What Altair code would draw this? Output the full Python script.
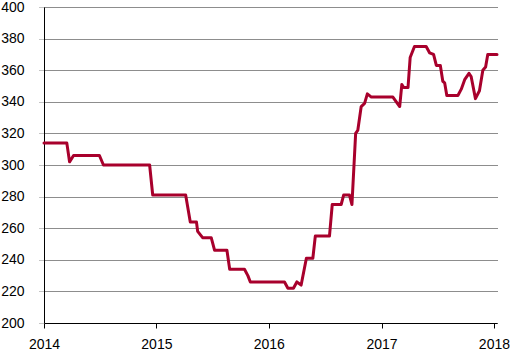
import altair as alt
import pandas as pd

dates = [
    "2014-01-01", "2014-03-16", "2014-03-25", "2014-04-07", "2014-06-30",
    "2014-07-13", "2014-12-10", "2014-12-20", "2015-04-06", "2015-04-21",
    "2015-05-11", "2015-05-15", "2015-05-31", "2015-06-28", "2015-07-09",
    "2015-08-18", "2015-08-27", "2015-10-14", "2015-10-25", "2015-11-02",
    "2016-02-21", "2016-03-03", "2016-03-21", "2016-04-01", "2016-04-15",
    "2016-05-02", "2016-05-23", "2016-05-31", "2016-07-16", "2016-07-25",
    "2016-08-23", "2016-08-31", "2016-09-19", "2016-09-27", "2016-10-09",
    "2016-10-16", "2016-10-27", "2016-11-07", "2016-11-16", "2016-11-29",
    "2017-02-07", "2017-03-01", "2017-03-08", "2017-03-14", "2017-03-28",
    "2017-04-04", "2017-04-18", "2017-05-26", "2017-06-06", "2017-06-19",
    "2017-06-28", "2017-07-11", "2017-07-19", "2017-07-25", "2017-08-01",
    "2017-09-06", "2017-09-17", "2017-09-28", "2017-10-12", "2017-10-19",
    "2017-11-02", "2017-11-15", "2017-11-26", "2017-12-05", "2017-12-12",
    "2018-01-11",
]
values = [
    314, 314, 302, 306, 306,
    300, 300, 281, 281, 264,
    264, 258, 254, 254, 246,
    246, 234, 234, 230, 226,
    226, 222, 222, 226, 224,
    241, 241, 255, 255, 275,
    275, 281, 281, 275, 320,
    322, 337, 339, 345, 343,
    343, 337, 351, 349, 349,
    368, 375, 375, 371, 370,
    363, 363, 353, 352, 344,
    344, 348, 354, 358, 356,
    342, 347, 360, 362, 370,
    370,
]
year_ticks = [2014, 2015, 2016, 2017, 2018]
y_ticks = [200, 220, 240, 260, 280, 300, 320, 340, 360, 380, 400]

df = pd.DataFrame({"date": dates, "value": values})

chart = alt.Chart(df).mark_line(
    color="#A8002C", strokeWidth=3, strokeJoin="round", strokeCap="round"
).encode(
    x=alt.X(
        "date:T",
        title=None,
        scale=alt.Scale(
            type="utc",
            domain=[
                alt.DateTime(year=2014, month=1, date=1, utc=True),
                alt.DateTime(year=2018, month=1, date=11, utc=True),
            ],
        ),
        axis=alt.Axis(
            values=[alt.DateTime(year=y, month=1, date=1, utc=True) for y in year_ticks],
            format="%Y",
            grid=False,
            domainColor="#000",
            tickColor="#000",
            tickSize=5,
            labelPadding=9,
            labelFont="Liberation Sans",
            labelFontSize=14,
            labelColor="#000",
            labelFlush=False,
        ),
    ),
    y=alt.Y(
        "value:Q",
        title=None,
        scale=alt.Scale(domain=[200, 400], nice=False, zero=False),
        axis=alt.Axis(
            values=y_ticks,
            grid=True,
            gridColor="#1a1a1a",
            gridDash=[1, 1],
            gridWidth=1,
            domainColor="#000",
            tickColor="#888",
            tickDash=[1, 1],
            tickSize=5,
            labelPadding=15,
            labelFont="Liberation Sans",
            labelFontSize=14,
            labelColor="#000",
        ),
    ),
).properties(
    width=453,
    height=316,
    autosize=alt.AutoSizeParams(type="none"),
    padding={"left": 44, "top": 7, "right": 14, "bottom": 28},
).configure_view(strokeWidth=0).configure_axis(domainWidth=1, tickWidth=1)

chart.save("out.html", embed_options={"renderer": "svg", "actions": False})
